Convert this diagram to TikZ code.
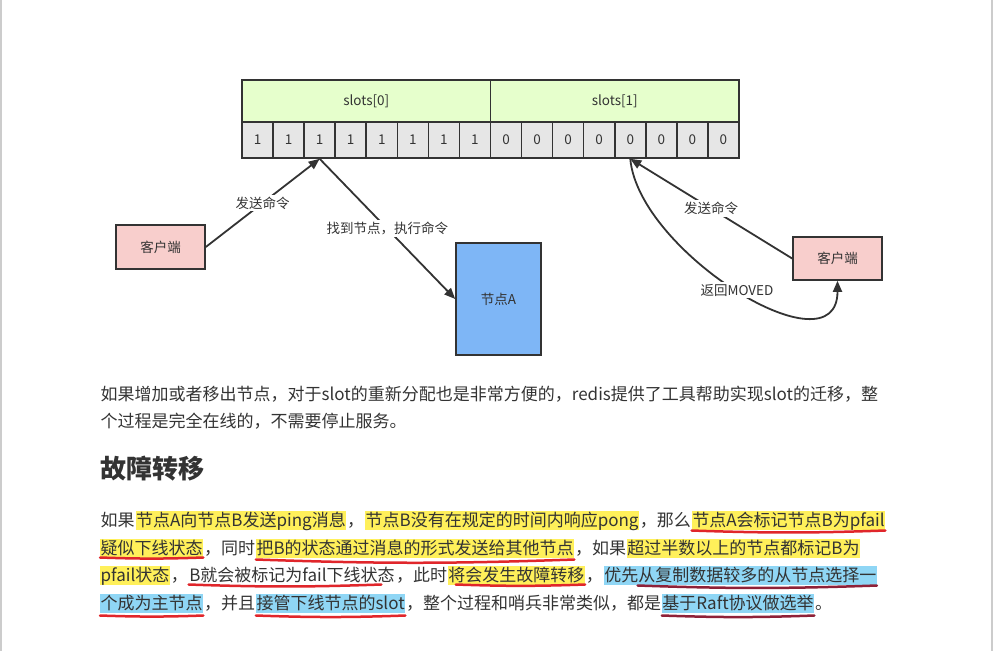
\documentclass[tikz,border=0pt]{standalone}
\usepackage{fontspec}
\setmainfont{Noto Sans CJK SC}
\usetikzlibrary{positioning, arrows.meta}
\definecolor{Ink}{HTML}{333333}
\definecolor{SlotGreen}{HTML}{E6FFCC}
\definecolor{CellGray}{HTML}{E6E6E6}
\definecolor{ClientPink}{HTML}{F8CECC}
\definecolor{NodeBlue}{HTML}{7EB6F6}
\definecolor{HiYellow}{HTML}{FFF05A}
\definecolor{HiBlue}{HTML}{8FD6F5}
\definecolor{PenRed}{HTML}{E0262B}
\definecolor{PenDark}{HTML}{8E2138}
\definecolor{PageEdge}{HTML}{CCCCCC}
\newcommand{\bodyfont}{\fontsize{17pt}{28pt}\selectfont}
\newcommand{\figfont}{\fontsize{13.5pt}{15pt}\selectfont}
\tikzset{
    figbox/.style={rectangle, draw=Ink, line width=1.6pt, text=Ink, font=\figfont, align=center},
    headbox/.style={figbox, fill=SlotGreen, minimum width=248.5pt, minimum height=42pt},
    cellbox/.style={figbox, fill=CellGray, minimum width=31.0625pt, minimum height=36pt},
    clientbox/.style={figbox, fill=ClientPink, minimum width=89pt, minimum height=44pt},
    serverbox/.style={figbox, fill=NodeBlue, minimum width=85pt, minimum height=112pt},
    arrow/.style={-{Triangle[length=11pt,width=9pt]}, line width=1.8pt, color=Ink},
    lbl/.style={fill=white, text=Ink, font=\figfont, inner sep=2pt},
    seg/.style={inner xsep=0.5pt, inner ysep=0pt, text height=16pt, text depth=3pt, text=Ink, font=\bodyfont},
    hly/.style={seg, fill=HiYellow},
    hlb/.style={seg, fill=HiBlue},
    pen/.style={line width=2.5pt, line cap=round, color=PenRed},
    darkpen/.style={pen, color=PenDark},
}

\begin{document}
\begin{tikzpicture}[x=1pt, y=1pt]
    \path[use as bounding box] (0,0) rectangle (993,-651);
    % page edges
    \draw[PageEdge, line width=2pt] (1,0) -- (1,-651);
    \draw[PageEdge, line width=2pt] (991.5,0) -- (991.5,-651);

    % slot table
    \node[headbox] (slot0) at (366.25,-101) {slots[0]};
    \node[headbox] (slot1) at (614.75,-101) {slots[1]};
    \foreach \i/\v in {1/1,2/1,3/1,4/1,5/1,6/1,7/1,8/1,9/0,10/0,11/0,12/0,13/0,14/0,15/0,16/0}
        \node[cellbox] (c\i) at ({242+31.0625*(\i-0.5)},-140) {\v};

    % clients and node
    \node[clientbox] (clientL) at (160.5,-247) {客户端};
    \node[serverbox] (nodeA) at (498.5,-299) {节点A};
    \node[clientbox, minimum height=43pt] (clientR) at (837.5,-258.5) {客户端};

    % requests
    \draw[arrow] (clientL.east) -- node[lbl] {发送命令} (c3.south);
    \draw[arrow] (c3.south) -- node[lbl] {找到节点，执行命令} (nodeA.west);
    \draw[arrow] (clientR.west) -- node[lbl] {发送命令} (c13.south);
    \draw[arrow] (c13.south) to[out=-85, in=-90] node[lbl] {返回MOVED} (clientR.south);

    % text below
    \node[seg, anchor=base west] (p1) at (100,-400.5) {如果增加或者移出节点，对于slot的重新分配也是非常方便的，redis提供了工具帮助实现slot的迁移，整};
    \node[seg, anchor=base west] (p2) at (100,-427.5) {个过程是完全在线的，不需要停止服务。};
    \node[anchor=base west, inner sep=0pt, text=Ink, font=\fontsize{26pt}{30pt}\selectfont\bfseries] (title) at (100,-478) {故障转移};

    % line 1
    \node[seg, anchor=base west] (l1a) at (100,-526.5) {如果};
    \node[hly, right=0pt of l1a] (l1b) {节点A向节点B发送ping消息};
    \node[seg, right=0pt of l1b] (l1c) {，};
    \node[hly, right=0pt of l1c] (l1d) {节点B没有在规定的时间内响应pong};
    \node[seg, right=0pt of l1d] (l1e) {，那么};
    \node[hly, right=0pt of l1e] (l1f) {节点A会标记节点B为pfail};
    % line 2
    \node[hly, anchor=base west] (l2a) at (100,-554.5) {疑似下线状态};
    \node[seg, right=0pt of l2a] (l2b) {，同时};
    \node[hly, right=0pt of l2b] (l2c) {把B的状态通过消息的形式发送给其他节点};
    \node[seg, right=0pt of l2c] (l2d) {，如果};
    \node[hly, right=0pt of l2d] (l2e) {超过半数以上的节点都标记B为};
    % line 3
    \node[hly, anchor=base west] (l3a) at (100,-581.5) {pfail状态};
    \node[seg, right=0pt of l3a] (l3b) {，};
    \node[seg, right=0pt of l3b] (l3c) {B就会被标记为fail下线状态};
    \node[seg, right=0pt of l3c] (l3d) {，此时};
    \node[hly, right=0pt of l3d] (l3e) {将会发生故障转移};
    \node[seg, right=0pt of l3e] (l3f) {，};
    \node[hlb, right=0pt of l3f] (l3g) {优先从复制数据较多的从节点选择一};
    % line 4
    \node[hlb, anchor=base west] (l4a) at (100,-609.5) {个成为主节点};
    \node[seg, right=0pt of l4a] (l4b) {，并且};
    \node[hlb, right=0pt of l4b] (l4c) {接管下线节点的slot};
    \node[seg, right=0pt of l4c] (l4d) {，整个过程和哨兵非常类似，都是};
    \node[hlb, right=0pt of l4d] (l4e) {基于Raft协议做选举};
    \node[seg, right=0pt of l4e] (l4f) {。};

    % pen marks
    \draw[pen] ([yshift=-4pt]l1f.base west) to[bend right=2] ([yshift=-4pt]l1f.base east);
    \draw[pen] ([yshift=-3pt]l2a.base west) to[bend right=2] ([yshift=-3pt]l2a.base east);
    \draw[pen] ([yshift=-5pt]l2c.base west) to[bend right=2] ([yshift=-5pt]l2c.base east);
    \draw[pen] ([yshift=-3pt]l3c.base west) to[bend right=2] ([xshift=-14pt,yshift=-3pt]l3c.base east);
    \draw[pen] ([xshift=8pt,yshift=-3pt]l3e.base west) to[bend right=2] ([yshift=-3pt]l3e.base east);
    \draw[darkpen] ([xshift=34pt,yshift=-4pt]l3g.base west) to[bend right=2] ([yshift=-4pt]l3g.base east);
    \draw[pen] ([yshift=-6pt]l4a.base west) to[bend right=2] ([yshift=-6pt]l4a.base east);
    \draw[pen] ([yshift=-6pt]l4c.base west) to[bend right=2] ([yshift=-6pt]l4c.base east);
    \draw[darkpen] ([yshift=-6pt]l4e.base west) to[bend right=2] ([yshift=-6pt]l4e.base east);
\end{tikzpicture}
\end{document}
